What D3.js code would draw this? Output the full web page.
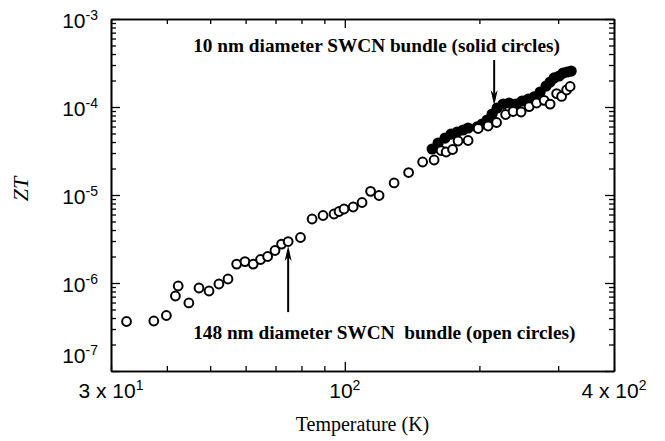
<!DOCTYPE html>
<html>
<head>
<meta charset="utf-8">
<style>
  body { margin: 0; background: #fff; }
  svg { display: block; }
  .tick line { stroke: #000; stroke-width: 1.3; }
  .domain { stroke: #000; stroke-width: 1.6; }
</style>
</head>
<body>
<svg width="665" height="441"></svg>
<script src="https://d3js.org/d3.v7.min.js"></script>
<script>
// 148 nm bundle (open circles)
const tempOpen = [32.5, 37.4, 39.9, 41.8, 42.4, 44.8, 47.2, 49.7, 52.3, 54.8,
  57.3, 59.8, 62.4, 64.8, 67.2, 69.8, 72.2, 74.7, 79.6, 84.5,
  89.4, 94.6, 97.1, 99.6, 104.4, 109.3, 114.2, 119.3, 128.9, 138.9,
  149.3, 158.4, 164.2, 168.5, 174.2, 179.2, 188.7, 198.7, 209.2, 218.5,
  228.9, 237.9, 247.9, 258.4, 268.5, 279.1, 287.9, 297.7, 305.4, 313.4, 319.1];
const ztOpen = [3.65e-7, 3.70e-7, 4.27e-7, 7.12e-7, 9.25e-7, 5.93e-7, 8.77e-7, 8.11e-7, 9.74e-7, 1.11e-6,
  1.64e-6, 1.75e-6, 1.64e-6, 1.85e-6, 2.00e-6, 2.34e-6, 2.77e-6, 2.96e-6, 3.29e-6, 5.34e-6,
  5.85e-6, 6.08e-6, 6.49e-6, 6.93e-6, 7.31e-6, 8.22e-6, 1.10e-5, 9.87e-6, 1.37e-5, 1.80e-5,
  2.37e-5, 2.50e-5, 3.20e-5, 3.08e-5, 3.29e-5, 4.11e-5, 4.16e-5, 5.70e-5, 6.08e-5, 6.67e-5,
  8.22e-5, 8.89e-5, 8.77e-5, 1.01e-4, 1.11e-4, 1.19e-4, 1.08e-4, 1.42e-4, 1.32e-4, 1.56e-4, 1.71e-4];

// 10 nm bundle (solid circles)
const tempSolid = [156.8, 161.7, 167.6, 172.9, 178.3, 183.9, 188.7, 197.7, 202.8, 208.1,
  213.5, 219.1, 226.0, 233.1, 241.6, 249.2, 257.1, 265.1, 273.5, 282.0,
  287.9, 293.9, 301.6, 307.8, 314.2, 320.8];
const ztSolid = [3.33e-5, 3.90e-5, 4.44e-5, 4.93e-5, 5.20e-5, 5.48e-5, 5.77e-5, 5.93e-5, 6.41e-5, 7.12e-5,
  8.33e-5, 9.74e-5, 1.08e-4, 1.11e-4, 1.08e-4, 1.17e-4, 1.23e-4, 1.30e-4, 1.48e-4, 1.73e-4,
  1.92e-4, 2.14e-4, 2.25e-4, 2.43e-4, 2.50e-4, 2.56e-4];

const xLabels = [[30, "3 x 10", "1"], [100, "10", "2"], [400, "4 x 10", "2"]];
const yLabels = [[1e-3, "-3"], [1e-4, "-4"], [1e-5, "-5"], [1e-6, "-6"], [1e-7, "-7"]];

// annotations: [T, ZT] in data units
const noteSolid = {text: "10 nm diameter SWCN bundle (solid circles)", at: [45.8, 4.22e-4], from: [215.8, 3.42e-4], to: [215.8, 1.05e-4]};
const noteOpen = {text: "148 nm diameter SWCN\u00a0 bundle (open circles)", at: [45.8, 2.31e-7], from: [74.7, 4.67e-7], to: [74.7, 2.63e-6]};

const svg = d3.select("svg");
const x = d3.scaleLog().domain([30, 400]).range([111, 614]);
const y = d3.scaleLog().domain([1e-7, 1e-3]).range([371, 19]);

const xTicks = x.ticks();
const xMajor = xTicks.filter(d => d === 100);
const xMinor = xTicks.filter(d => d !== 100);
const yTicks = y.ticks();
const isDecade = d => Math.abs(Math.log10(d) - Math.round(Math.log10(d))) < 1e-6;
const yMajor = yTicks.filter(isDecade);
const yMinor = yTicks.filter(d => !isDecade(d));

function axisSet(axisFn, scale, minor, major, transform) {
  svg.append("g").attr("transform", transform)
    .call(axisFn(scale).tickValues(minor).tickSize(-5).tickSizeOuter(0).tickFormat(""));
  svg.append("g").attr("transform", transform)
    .call(axisFn(scale).tickValues(major).tickSize(-9).tickSizeOuter(0).tickFormat(""));
}
axisSet(d3.axisBottom, x, xMinor, xMajor, "translate(0,371)");
axisSet(d3.axisTop, x, xMinor, xMajor, "translate(0,19)");
axisSet(d3.axisLeft, y, yMinor, yMajor, "translate(111,0)");
axisSet(d3.axisRight, y, yMinor, yMajor, "translate(614,0)");

// tick labels
const sans = "'Liberation Sans', Arial, sans-serif";
xLabels.forEach(([v, base, sup]) => {
  const t = svg.append("text").attr("x", x(v)).attr("y", 398)
    .attr("text-anchor", "middle").attr("font-family", sans).attr("font-size", 21);
  t.append("tspan").text(base);
  t.append("tspan").attr("font-size", 14).attr("dy", -8).text(sup);
});
yLabels.forEach(([v, sup]) => {
  const yy = y(v) + (v === 1e-7 ? -8 : 9);
  const t = svg.append("text").attr("x", 98).attr("y", yy)
    .attr("text-anchor", "end").attr("font-family", sans).attr("font-size", 21);
  t.append("tspan").text("10");
  t.append("tspan").attr("font-size", 14).attr("dy", -8).text(sup);
});

// axis titles
const serif = "'Liberation Serif', 'Times New Roman', serif";
svg.append("text").attr("x", x(Math.sqrt(30 * 400))).attr("y", 431)
  .attr("text-anchor", "middle").attr("font-family", serif).attr("font-size", 20)
  .text("Temperature (K)");
svg.append("text").attr("transform", "translate(28,189) rotate(-90)")
  .attr("text-anchor", "middle").attr("font-family", serif).attr("font-size", 22)
  .attr("font-style", "italic").text("ZT");

// points
svg.append("g").selectAll("circle").data(tempSolid).join("circle")
  .attr("cx", d => x(d)).attr("cy", (d, i) => y(ztSolid[i]))
  .attr("r", 5.6).attr("fill", "#000");
svg.append("g").selectAll("circle").data(tempOpen).join("circle")
  .attr("cx", d => x(d)).attr("cy", (d, i) => y(ztOpen[i]))
  .attr("r", 4.4).attr("fill", "#fff").attr("stroke", "#000").attr("stroke-width", 2);

// annotations
[noteSolid, noteOpen].forEach(n => {
  svg.append("text").attr("x", x(n.at[0])).attr("y", y(n.at[1]))
    .attr("font-family", serif).attr("font-size", 19.3).attr("font-weight", "bold")
    .text(n.text);
  const x0 = x(n.from[0]), y0 = y(n.from[1]), y1 = y(n.to[1]);
  const dir = Math.sign(y1 - y0);
  svg.append("line").attr("x1", x0).attr("x2", x0).attr("y1", y0).attr("y2", y1 - dir * 4)
    .attr("stroke", "#000").attr("stroke-width", 2);
  svg.append("path")
    .attr("d", `M${x0},${y1} L${x0 - 3.5},${y1 - dir * 15} L${x0},${y1 - dir * 11} L${x0 + 3.5},${y1 - dir * 15} Z`)
    .attr("fill", "#000");
});
</script>
</body>
</html>
